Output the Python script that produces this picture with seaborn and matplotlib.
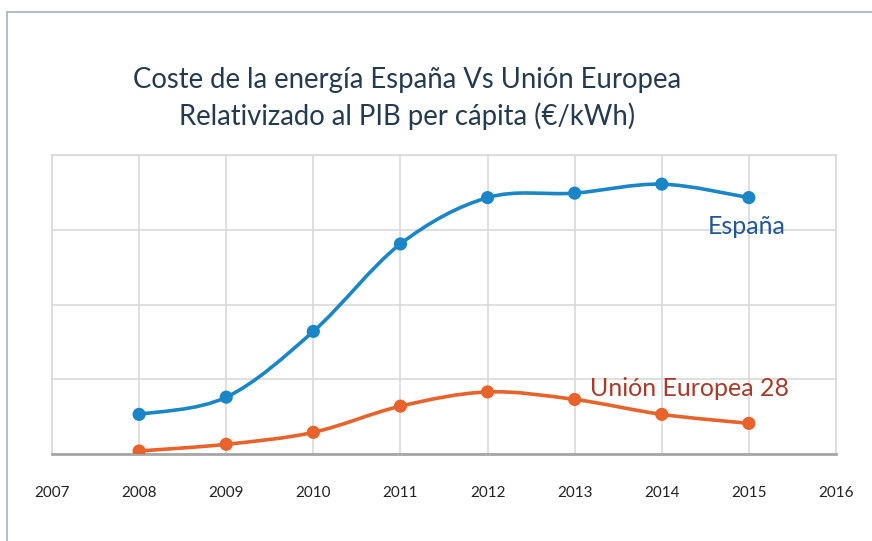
import numpy as np
import pandas as pd
import matplotlib
matplotlib.use("Agg")
import matplotlib.pyplot as plt
from matplotlib.path import Path
from matplotlib.patches import PathPatch, Rectangle
import seaborn as sns

# Data (arbitrary units, axis has no labels)
years = [2008, 2009, 2010, 2011, 2012, 2013, 2014, 2015]
espana = [0.53, 0.76, 1.64, 2.81, 3.43, 3.49, 3.61, 3.43]
ue28 = [0.04, 0.13, 0.29, 0.64, 0.83, 0.73, 0.53, 0.41]
xticks = list(range(2007, 2017))

blue = "#1a86c8"
orange = "#e8622c"

sns.set_style("white")
plt.rcParams['font.family'] = ['Lato', 'DejaVu Sans']

df = pd.DataFrame({"year": years * 2,
                   "valor": espana + ue28,
                   "serie": ["España"] * len(years) + ["Unión Europea 28"] * len(years)})

fig = plt.figure(figsize=(8.72, 5.41), dpi=100)
ax = fig.add_axes([52 / 872, 87 / 541, 784 / 872, 299 / 541])


def smooth_path(xs, ys, t=1 / 6):
    # Catmull-Rom style smoothing like a spreadsheet "smoothed line"
    pts = np.column_stack([xs, ys]).astype(float)
    verts = [pts[0]]
    codes = [Path.MOVETO]
    n = len(pts)
    for i in range(n - 1):
        p0 = pts[max(i - 1, 0)]
        p1 = pts[i]
        p2 = pts[i + 1]
        p3 = pts[min(i + 2, n - 1)]
        c1 = p1 + (p2 - p0) * t
        c2 = p2 - (p3 - p1) * t
        verts += [c1, c2, p2]
        codes += [Path.CURVE4] * 3
    return Path(verts, codes)


for vals, col in [(espana, blue), (ue28, orange)]:
    ax.add_patch(PathPatch(smooth_path(years, vals), facecolor="none",
                           edgecolor=col, lw=2.6, zorder=3, capstyle="round"))

sns.scatterplot(data=df, x="year", y="valor", hue="serie",
                palette={"España": blue, "Unión Europea 28": orange},
                s=90, edgecolor="none", legend=False, zorder=4, ax=ax)

ax.set_xlim(2007, 2016)
ax.set_ylim(0, 4)
ax.set_xticks(xticks)
ax.set_xticklabels([str(x) for x in xticks])
ax.set_yticks([0, 1, 2, 3, 4])
ax.set_yticklabels([])
ax.grid(True, color="#d9d9d9", lw=1.2)
ax.set_xlabel("")
ax.set_ylabel("")
ax.tick_params(axis="x", length=0, pad=23, labelsize=11, labelcolor="#222222")
ax.tick_params(axis="y", length=0)
for s in ["top", "right", "left"]:
    ax.spines[s].set_color("#d9d9d9")
    ax.spines[s].set_linewidth(1.2)
ax.spines["bottom"].set_color("#a6a6a6")
ax.spines["bottom"].set_linewidth(2)

ax.text(2014.53, 3.05, "España", color="#1f5797", fontsize=18, ha="left", va="center")
ax.text(2013.18, 0.88, "Unión Europea 28", color="#a83a2a", fontsize=18, ha="left", va="center")

fig.text(407 / 872, 1 - 80 / 541, "Coste de la energía España Vs Unión Europea",
         ha="center", va="center", fontsize=19.8, color="#243a4f")
fig.text(407 / 872, 1 - 116 / 541, "Relativizado al PIB per cápita (€/kWh)",
         ha="center", va="center", fontsize=19.8, color="#243a4f")

# outer frame (only left and top visible)
fig.add_artist(Rectangle((7 / 872, -0.1), 1.1, 1 - 12 / 541 + 0.1,
                         transform=fig.transFigure, fill=False,
                         edgecolor="#a9b9c8", lw=1.3))

fig.savefig("out.png", dpi=100)
